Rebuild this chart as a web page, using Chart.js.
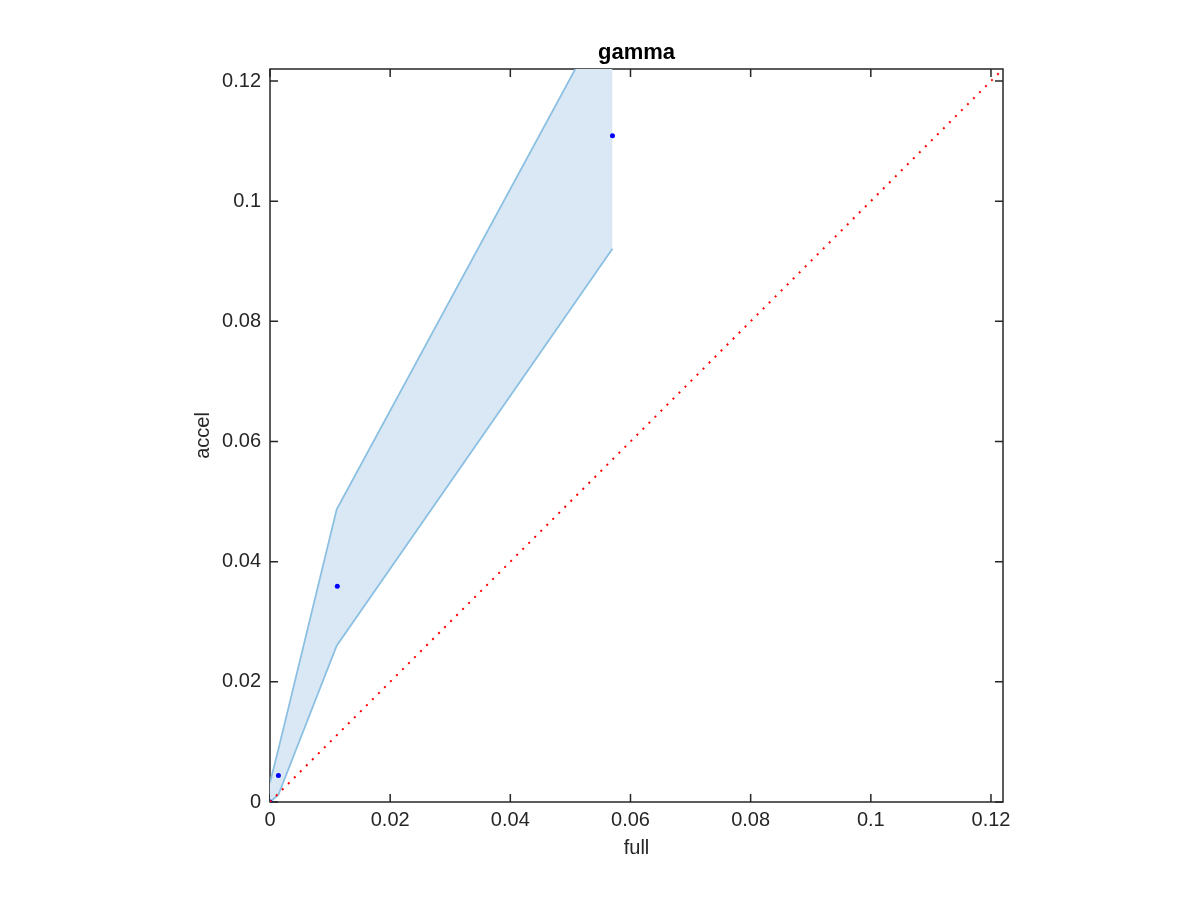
<!DOCTYPE html>
<html>
<head>
<meta charset="utf-8">
<script src="https://cdn.jsdelivr.net/npm/chart.js@4.4.1/dist/chart.umd.min.js"></script>
<style>
html,body{margin:0;padding:0;background:#fff;}
canvas{display:block;}
</style>
</head>
<body>
<canvas id="c" width="1200" height="900"></canvas>
<script>
// ---- data ----
const titleText = 'gamma';
const xLabel = 'full';
const yLabel = 'accel';
const axisMin = 0;
const axisMax = 0.122;
const tickValues = [0, 0.02, 0.04, 0.06, 0.08, 0.1, 0.12];
const tickLabels = ['0', '0.02', '0.04', '0.06', '0.08', '0.1', '0.12'];

const fullX = [0, 0.0014, 0.0112, 0.0570];
const accelY = [0, 0.0044, 0.0359, 0.1109];
const bandX = [0, 0.0014, 0.0111, 0.0570];
const bandUpper = [0.0032, 0.0088, 0.0487, 0.1334];
const bandLower = [0, 0.0012, 0.0260, 0.0921];
const diagX = [0, 0.122];
const diagY = [0, 0.122];

const pts = (xs, ys) => xs.map((x, i) => ({x: x, y: ys[i]}));

const FONT = "'Liberation Sans', Arial, Helvetica, sans-serif";
const TXT = '#262626';

const boxPlugin = {
  id: 'matlabBox',
  beforeDatasetsDraw(chart) {
    const {ctx, chartArea: a, scales} = chart;
    ctx.save();
    ctx.strokeStyle = TXT;
    ctx.lineWidth = 1.5;
    ctx.strokeRect(a.left, a.top, a.right - a.left, a.bottom - a.top);
    const tl = 8;
    ctx.beginPath();
    scales.x.ticks.forEach(t => {
      const px = scales.x.getPixelForValue(t.value);
      ctx.moveTo(px, a.bottom); ctx.lineTo(px, a.bottom - tl);
      ctx.moveTo(px, a.top); ctx.lineTo(px, a.top + tl);
    });
    scales.y.ticks.forEach(t => {
      const py = scales.y.getPixelForValue(t.value);
      ctx.moveTo(a.left, py); ctx.lineTo(a.left + tl, py);
      ctx.moveTo(a.right, py); ctx.lineTo(a.right - tl, py);
    });
    ctx.stroke();
    ctx.restore();
  }
};

const setTicks = (scale) => { scale.ticks = tickValues.map(v => ({value: v})); };

new Chart(document.getElementById('c'), {
  type: 'line',
  data: {
    datasets: [
      {
        label: 'diag',
        data: pts(diagX, diagY),
        borderColor: '#ff0000',
        borderWidth: 2,
        borderDash: [2, 6.5],
        pointRadius: 0,
        fill: false,
        order: 0
      },
      {
        label: 'points',
        data: pts(fullX, accelY),
        showLine: false,
        pointRadius: 2.5,
        pointBackgroundColor: '#0000ff',
        pointBorderColor: '#0000ff',
        pointBorderWidth: 0,
        order: 1
      },
      {
        label: 'upper',
        data: pts(bandX, bandUpper),
        borderColor: '#8cc0e2',
        borderWidth: 1.8,
        pointRadius: 0,
        fill: '+1',
        backgroundColor: '#d9e8f4',
        order: 3
      },
      {
        label: 'lower',
        data: pts(bandX, bandLower),
        borderColor: '#8cc0e2',
        borderWidth: 1.8,
        pointRadius: 0,
        fill: false,
        order: 2
      }
    ]
  },
  options: {
    responsive: false,
    animation: false,
    devicePixelRatio: 1,
    layout: { padding: { left: 170, right: 197, top: 10, bottom: 30 } },
    plugins: {
      legend: { display: false },
      tooltip: { enabled: false },
      title: {
        display: true,
        text: titleText,
        fullSize: false,
        color: '#000',
        font: { family: FONT, size: 22, weight: 'bold', lineHeight: 1.2 },
        padding: { top: 30, bottom: 2.6 }
      }
    },
    scales: {
      x: {
        type: 'linear',
        min: axisMin, max: axisMax,
        grid: { display: false, drawTicks: false },
        border: { display: false },
        afterBuildTicks: setTicks,
        afterFit: (s) => { s.height = 68; s.paddingLeft = 0; s.paddingRight = 0; },
        ticks: {
          color: TXT, padding: 6, maxRotation: 0, autoSkip: false,
          font: { family: FONT, size: 20, lineHeight: 1.2 },
          callback: (v, i) => tickLabels[i]
        },
        title: {
          display: true, text: xLabel, color: TXT,
          font: { family: FONT, size: 20, lineHeight: 1.2 },
          padding: { top: 0, bottom: 10 }
        }
      },
      y: {
        type: 'linear',
        min: axisMin, max: axisMax,
        grid: { display: false, drawTicks: false },
        border: { display: false },
        afterBuildTicks: setTicks,
        afterFit: (s) => { s.width = 100; s.paddingTop = 0; s.paddingBottom = 0; },
        ticks: {
          color: TXT, padding: 9, autoSkip: false,
          font: { family: FONT, size: 20, lineHeight: 1.2 },
          callback: (v, i) => tickLabels[i]
        },
        title: {
          display: true, text: yLabel, color: TXT,
          font: { family: FONT, size: 20, lineHeight: 1.2 },
          padding: { top: 21, bottom: 0 }
        }
      }
    }
  },
  plugins: [boxPlugin]
});
</script>
</body>
</html>
